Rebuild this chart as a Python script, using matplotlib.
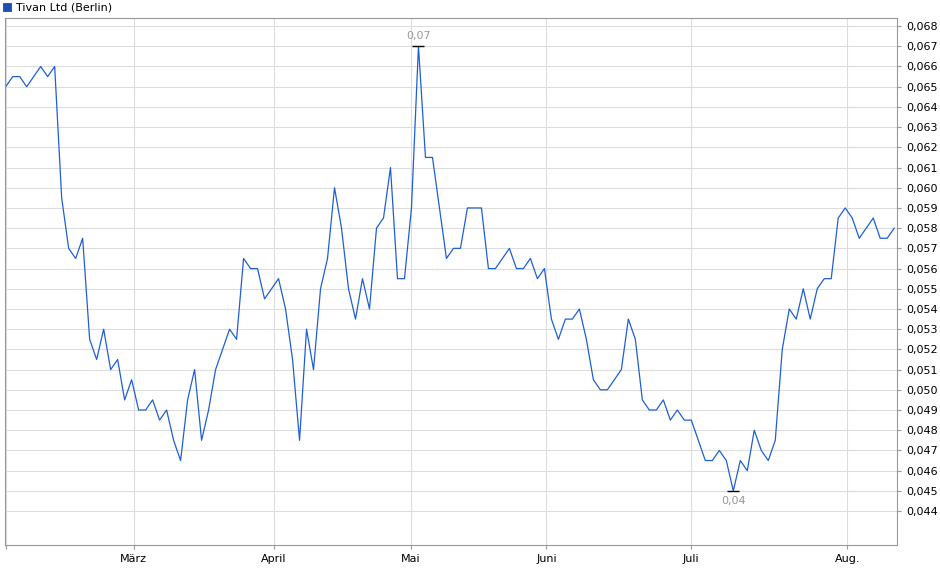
import matplotlib.pyplot as plt
import numpy as np

prices = [0.065, 0.0655, 0.0655, 0.065, 0.0655, 0.066, 0.0655, 0.066, 0.0595, 0.057,
          0.0565, 0.0575, 0.0525, 0.0515, 0.053, 0.051, 0.0515, 0.0495, 0.0505, 0.049,
          0.049, 0.0495, 0.0485, 0.049, 0.0475, 0.0465, 0.0495, 0.051, 0.0475, 0.049,
          0.051, 0.052, 0.053, 0.0525, 0.0565, 0.056, 0.056, 0.0545, 0.055, 0.0555,
          0.054, 0.0515, 0.0475, 0.053, 0.051, 0.055, 0.0565, 0.060, 0.058, 0.055,
          0.0535, 0.0555, 0.054, 0.058, 0.0585, 0.061, 0.0555, 0.0555, 0.059, 0.067,
          0.0615, 0.0615, 0.059, 0.0565, 0.057, 0.057, 0.059, 0.059, 0.059, 0.056,
          0.056, 0.0565, 0.057, 0.056, 0.056, 0.0565, 0.0555, 0.056, 0.0535, 0.0525,
          0.0535, 0.0535, 0.054, 0.0525, 0.0505, 0.050, 0.050, 0.0505, 0.051, 0.0535,
          0.0525, 0.0495, 0.049, 0.049, 0.0495, 0.0485, 0.049, 0.0485, 0.0485, 0.0475,
          0.0465, 0.0465, 0.047, 0.0465, 0.045, 0.0465, 0.046, 0.048, 0.047, 0.0465,
          0.0475, 0.052, 0.054, 0.0535, 0.055, 0.0535, 0.055, 0.0555, 0.0555, 0.0585,
          0.059, 0.0585, 0.0575, 0.058, 0.0585, 0.0575, 0.0575, 0.058]
x = np.arange(len(prices))
# month starts, in trading-day index units
month_pos = [0, 18.3, 38.3, 57.9, 77.3, 97.9, 120.3]
month_labels = ['', 'März', 'April', 'Mai', 'Juni', 'Juli', 'Aug.']
y_ticks = np.round(np.arange(0.044, 0.0685, 0.001), 3)

fig = plt.figure(figsize=(9.4, 5.79), dpi=100)
ax = fig.add_axes([5/940, 34/579, 892/940, 527/579])
ax.plot(x, prices, color='#1f5fd6', lw=0.9)

ax.set_xlim(-0.1, 127.4)
ax.set_ylim(0.04232, 0.0684)
ax.set_xticks(month_pos)
ax.set_xticklabels(month_labels, fontsize=8)
ax.set_yticks(y_ticks)
ax.set_yticklabels([f'{v:.3f}'.replace('.', ',') for v in y_ticks], fontsize=8)
ax.yaxis.tick_right()
ax.grid(True, color='#dddddd', lw=0.8)
ax.tick_params(length=3, color='#999999')
for s in ax.spines.values():
    s.set_color('#999999')

imax = int(np.argmax(prices))
imin = int(np.argmin(prices))
for i, off, va in [(imax, 4, 'bottom'), (imin, -4, 'top')]:
    ax.plot(x[i], prices[i], marker='_', ms=8, color='black', mew=1)
    ax.annotate(f'{round(prices[i], 2):.2f}'.replace('.', ','), (x[i], prices[i]),
                xytext=(0, off), textcoords='offset points', ha='center', va=va,
                fontsize=8, color='#999999')

fig.text(16/940, 1 - 7/579, 'Tivan Ltd (Berlin)', fontsize=8, va='center')
fig.patches.append(plt.Rectangle((3/940, 1 - 11/579), 8/940, 8/579, transform=fig.transFigure,
                                 facecolor='#1f4fb0', edgecolor='#333333', lw=0.5))
fig.savefig('out.png')
